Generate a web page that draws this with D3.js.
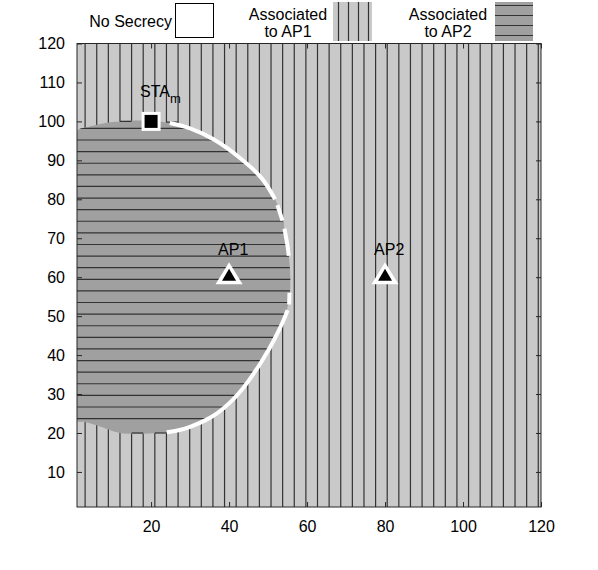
<!DOCTYPE html>
<html>
<head>
<meta charset="utf-8">
<script src="https://cdn.jsdelivr.net/npm/d3@7"></script>
<style>
  body { margin: 0; background: #fff; }
  text { font-family: "Liberation Sans", Arial, Helvetica, sans-serif; fill: #000; }
</style>
</head>
<body>
<div id="chart"></div>
<script>
const xTicks = [20, 40, 60, 80, 100, 120];
const yTicks = [10, 20, 30, 40, 50, 60, 70, 80, 90, 100, 110, 120];

const aps = [
  { name: "AP1", x: 40, y: 60 },
  { name: "AP2", x: 80, y: 60 }
];
const sta = { x: 20, y: 100 };

// outline of the region associated to AP2
const ap2Region = [
  [12, 100], [18, 100.2], [24.8, 99.6], [30, 98.2], [36, 95.4], [42.8, 90.6],
  [48.3, 85.5], [51.8, 80], [53.7, 74.5], [55, 68], [55.7, 60], [55.4, 54.2],
  [54, 49], [51.6, 44], [48.3, 38.3], [45, 33.4], [42.5, 30.2], [40, 27.6],
  [37, 25.1], [34, 23.3], [30, 21.6], [27, 20.7], [24, 20.1],
  [18, 19.8], [12, 20], [9, 20.9], [6, 22], [3, 22.8], [0.5, 23.4],
  [0.5, 97], [4.3, 98.7], [9.5, 99.8]
];

// white "no secrecy" strips along the border
const noSecrecy = [
  [[24.8, 99.6], [30, 98.2], [36, 95.4], [42.8, 90.6], [48.3, 85.5], [51.8, 80]],
  [[52.4, 78.5], [53.7, 74.5]],
  [[54.2, 72.5], [55, 68], [55.3, 65.5]],
  [[55.5, 56], [55.4, 53]],
  [[55, 51.5], [54, 49], [51.6, 44], [48.3, 38.3], [45, 33.4], [42.5, 30.2],
   [40, 27.6], [37, 25.1], [34, 23.3], [30, 21.6], [27, 20.7], [24, 20.2]]
];

// little joins between neighbouring hatch lines: [line a, line b, y]
const hatchJoins = [[3, 4, 100], [7, 8, 99.8], [4, 5, 20], [6, 7, 20]];

const W = 598, H = 570;
const light = "#c9c9c9", dark = "#a0a0a0", ink = "#333";

const svg = d3.select("#chart").append("svg")
    .attr("width", W)
    .attr("height", H);

const x = d3.scaleLinear().domain([1, 120]).range([77, 541]);
const y = d3.scaleLinear().domain([1, 120]).range([507, 43.5]);

svg.append("clipPath").attr("id", "plot")
  .append("rect")
    .attr("x", x(1)).attr("y", y(120))
    .attr("width", x(120) - x(1)).attr("height", y(1) - y(120));

const outline = d3.line()
    .x(d => x(d[0]))
    .y(d => y(d[1]))
    .curve(d3.curveCatmullRomClosed);
const strip = d3.line()
    .x(d => x(d[0]))
    .y(d => y(d[1]))
    .curve(d3.curveCatmullRom);

svg.append("clipPath").attr("id", "region")
  .append("path")
    .attr("d", outline(ap2Region));

const g = svg.append("g").attr("clip-path", "url(#plot)");

g.append("rect")
    .attr("x", x(1)).attr("y", y(120))
    .attr("width", x(120) - x(1)).attr("height", y(1) - y(120))
    .attr("fill", light);

// vertical hatch of the AP1 area
const vx = d3.range(40).map(k => 3.08 + 2.98 * k);
g.selectAll(".vh")
    .data(vx)
  .enter().append("line")
    .attr("class", "vh")
    .attr("x1", d => x(d)).attr("x2", d => x(d))
    .attr("y1", y(120)).attr("y2", y(1))
    .attr("stroke", ink)
    .attr("stroke-width", 1.2);

g.append("path")
    .attr("d", outline(ap2Region))
    .attr("fill", dark);

// horizontal hatch of the AP2 area
const hy = d3.range(26).map(k => 98.2 - 2.98 * k);
g.append("g").attr("clip-path", "url(#region)")
  .selectAll("line")
    .data(hy)
  .enter().append("line")
    .attr("x1", x(1)).attr("x2", x(60))
    .attr("y1", d => y(d)).attr("y2", d => y(d))
    .attr("stroke", ink)
    .attr("stroke-width", 1.2);

g.selectAll(".join")
    .data(hatchJoins)
  .enter().append("line")
    .attr("class", "join")
    .attr("x1", d => x(vx[d[0]])).attr("x2", d => x(vx[d[1]]))
    .attr("y1", d => y(d[2])).attr("y2", d => y(d[2]))
    .attr("stroke", ink)
    .attr("stroke-width", 1.2);

g.selectAll(".ns")
    .data(noSecrecy)
  .enter().append("path")
    .attr("class", "ns")
    .attr("d", strip)
    .attr("fill", "none")
    .attr("stroke", "#fff")
    .attr("stroke-width", 4);

// axes box and ticks
const axisColor = "#262626";
svg.append("rect")
    .attr("x", x(1)).attr("y", y(120))
    .attr("width", x(120) - x(1)).attr("height", y(1) - y(120))
    .attr("fill", "none")
    .attr("stroke", axisColor)
    .attr("stroke-width", 1);

svg.append("g")
    .attr("transform", `translate(0,${y(1)})`)
    .call(d3.axisBottom(x).tickValues(xTicks).tickSizeInner(-5).tickSizeOuter(0).tickPadding(14));
svg.append("g")
    .attr("transform", `translate(${x(1)},0)`)
    .call(d3.axisLeft(y).tickValues(yTicks).tickSizeInner(-5).tickSizeOuter(0).tickPadding(12));
svg.append("g")
    .attr("transform", `translate(0,${y(120)})`)
    .call(d3.axisTop(x).tickValues(xTicks).tickSizeInner(-5).tickSizeOuter(0).tickFormat(""));
svg.append("g")
    .attr("transform", `translate(${x(120)},0)`)
    .call(d3.axisRight(y).tickValues(yTicks).tickSizeInner(-5).tickSizeOuter(0).tickFormat(""));

svg.selectAll(".domain").remove();
svg.selectAll(".tick line").attr("stroke", axisColor);
svg.selectAll(".tick text")
    .attr("font-size", 16)
    .attr("font-family", "Liberation Sans, Arial, sans-serif")
    .attr("fill", "#000");

// AP markers
aps.forEach(a => {
  const cx = x(a.x), cy = y(a.y);
  svg.append("path")
      .attr("d", `M${cx},${cy - 15}L${cx + 13.5},${cy + 7}L${cx - 13.5},${cy + 7}Z`)
      .attr("fill", "#fff");
  svg.append("path")
      .attr("d", `M${cx},${cy - 8.5}L${cx + 7},${cy + 3.5}L${cx - 7},${cy + 3.5}Z`)
      .attr("fill", "#000");
  svg.append("text")
      .attr("x", cx - 11)
      .attr("y", cy - 22)
      .attr("font-size", 16)
      .text(a.name);
});

// STA marker
const sx = x(sta.x), sy = y(sta.y);
svg.append("rect")
    .attr("x", sx - 9.5).attr("y", sy - 9.5)
    .attr("width", 19).attr("height", 19)
    .attr("fill", "#fff");
svg.append("rect")
    .attr("x", sx - 6.5).attr("y", sy - 6.5)
    .attr("width", 13).attr("height", 13)
    .attr("fill", "#000");
const staLabel = svg.append("text")
    .attr("x", sx - 11)
    .attr("y", sy - 24)
    .attr("font-size", 16)
    .text("STA");
staLabel.append("tspan")
    .attr("dy", 6)
    .attr("font-size", 13)
    .text("m");

// legend
const legend = svg.append("g");
legend.append("text")
    .attr("x", 172).attr("y", 27)
    .attr("text-anchor", "end")
    .attr("font-size", 16)
    .text("No Secrecy");
legend.append("rect")
    .attr("x", 175.5).attr("y", 3.5)
    .attr("width", 38).attr("height", 34)
    .attr("fill", "#fff")
    .attr("stroke", "#000")
    .attr("stroke-width", 1);

[["Associated", "to AP1", 288], ["Associated", "to AP2", 448]].forEach(t => {
  legend.append("text")
      .attr("x", t[2]).attr("y", 20)
      .attr("text-anchor", "middle")
      .attr("font-size", 16)
      .text(t[0]);
  legend.append("text")
      .attr("x", t[2]).attr("y", 37)
      .attr("text-anchor", "middle")
      .attr("font-size", 16)
      .text(t[1]);
});

legend.append("rect")
    .attr("x", 333).attr("y", 2)
    .attr("width", 39).attr("height", 39)
    .attr("fill", light);
legend.selectAll(".lv")
    .data(d3.range(4))
  .enter().append("line")
    .attr("class", "lv")
    .attr("x1", k => 338.5 + 10 * k).attr("x2", k => 338.5 + 10 * k)
    .attr("y1", 2).attr("y2", 41)
    .attr("stroke", ink)
    .attr("stroke-width", 1.2);

legend.append("rect")
    .attr("x", 495).attr("y", 2)
    .attr("width", 38).attr("height", 39)
    .attr("fill", dark);
legend.selectAll(".lh")
    .data(d3.range(4))
  .enter().append("line")
    .attr("class", "lh")
    .attr("x1", 495).attr("x2", 533)
    .attr("y1", k => 5.5 + 10 * k).attr("y2", k => 5.5 + 10 * k)
    .attr("stroke", ink)
    .attr("stroke-width", 1.2);
</script>
</body>
</html>
